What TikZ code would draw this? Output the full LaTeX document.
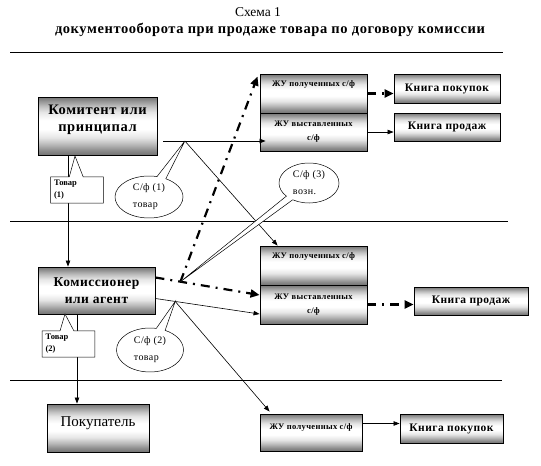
\documentclass[tikz,border=0pt]{standalone}
\usepackage{fontspec}
\setmainfont{Liberation Serif}
\newfontfamily\widefont{Liberation Serif}[LetterSpace=4]
\usetikzlibrary{arrows.meta,shapes.callouts,shapes.geometric}

\pgfdeclareverticalshading{docshade}{100bp}{color(0bp)=(black!55); color(25bp)=(black!55); color(29bp)=(black!45); color(34bp)=(black!28); color(40bp)=(black!10); color(47bp)=(white); color(55bp)=(white); color(62bp)=(black!10); color(67bp)=(black!25); color(71bp)=(black!40); color(75bp)=(black!55); color(100bp)=(black!55)}

\begin{document}
\begin{tikzpicture}[x=1pt,y=-1pt,line width=.6pt,>={Triangle[length=6pt,width=4.5pt]}]

	\useasboundingbox (0,0) rectangle (541,466);
	\def \bigtxt{\widefont\fontsize{14.5}{16.5}\selectfont}
	\def \smalltxt{\widefont\fontsize{8.5}{14}\selectfont}
	\tikzstyle{doc}=[draw=black,line width=.9pt,shading=docshade,inner sep=2pt,align=center,font=\bfseries]
	\tikzstyle{book}=[doc,minimum height=29pt,font=\widefont\fontsize{11.5}{12}\selectfont\bfseries]
	\tikzstyle{journal}=[doc,minimum width=107pt,minimum height=39pt,font=\smalltxt\bfseries]
	\tikzstyle{note}=[rectangle callout,draw=black,fill=white,line width=.5pt,callout pointer width=14pt,align=left,text width=46pt,font=\fontsize{8.5}{12}\selectfont\bfseries]
	\tikzstyle{sf}=[ellipse callout,draw=black,fill=white,line width=.5pt,callout pointer arc=16,inner sep=0pt,align=left,font=\widefont\fontsize{10}{17}\selectfont]
	\tikzstyle{dd-line}=[line width=2.2pt,dash pattern=on 9pt off 6pt on 2pt off 6pt,-{Triangle[length=9pt,width=8pt]}]

	% title
	\node (title)	 at (258,12)	{\fontsize{13.5}{15}\selectfont Схема 1};
	\node (subtitle) at (270,30)	{\widefont\fontsize{14.5}{16}\selectfont\bfseries документооборота при продаже товара по договору комиссии};

	% layers
	\draw[line width=.8pt] (10,52) -- (503,52);
	\draw[line width=.8pt] (10,221) -- (508,221);
	\draw[line width=.8pt] (10,380) -- (502,380);

	% participants
	\node[doc,minimum width=119pt,minimum height=58pt,font=\bigtxt\bfseries,text height=26pt,text depth=16pt] (komitent) at (97.5,126) {Комитент или\\принципал};
	\node[doc,minimum width=117pt,minimum height=47pt,font=\widefont\fontsize{13.5}{16.5}\selectfont\bfseries] (komis) at (96.5,290.5) {Комиссионер\\или агент};
	\node[doc,minimum width=102pt,minimum height=48pt,font=\fontsize{15}{17}\selectfont,text height=10pt,text depth=14pt] (pokup) at (98,428) {Покупатель};

	% komitent layer
	\node[journal,text height=6pt,text depth=21pt] (zhuP1) at (313.5,93.5) {ЖУ полученных с/ф};
	\node[journal,minimum height=38pt] (zhuV1) at (313.5,132) {ЖУ выставленных\\с/ф};
	\node[book,minimum width=106pt] (knP1) at (447,88.5) {Книга покупок};
	\node[book,minimum width=106pt,minimum height=28pt] (knS1) at (447,127) {Книга продаж};

	% komissioner layer
	\node[journal,text height=6pt,text depth=21pt] (zhuP2) at (313.5,265.5) {ЖУ полученных с/ф};
	\node[journal] (zhuV2) at (313.5,304.5) {ЖУ выставленных\\с/ф};
	\node[book,minimum width=114pt,minimum height=28pt] (knS2) at (471,301) {Книга продаж};

	% buyer layer
	\node[journal,minimum width=102pt,minimum height=37pt,text height=6pt,text depth=13pt] (zhuP3) at (311,432.5) {ЖУ полученных с/ф};
	\node[book,minimum width=103pt] (knP3) at (451.5,428.5) {Книга покупок};

	% goods
	\draw[->] ([xshift=-29.5pt]komitent.south) -- ([xshift=-29.5pt]komitent.south |- komis.north);
	\draw[->] ([xshift=-19.5pt]komis.south) -- ([xshift=-19.5pt]komis.south |- pokup.north);
	\node[note,callout absolute pointer={(75,156)}] (tov1) at (77,190) {Товар\\(1)};
	\node[note,callout absolute pointer={(65,314)}] (tov2) at (68.5,344) {Товар\\(2)};

	% invoices
	\draw[->] ([shift={(6pt,-15pt)}]komitent.east) -- coordinate[pos=.21] (j1) ([shift={(6pt,-15pt)}]komitent.east -| zhuV1.west);
	\draw[->] (j1) -- ([xshift=18pt]zhuP2.north west);
	\draw[->] ([yshift=-8pt]komis.east) -- coordinate[pos=.19] (j3) ([yshift=-9.5pt]zhuV2.west);
	\draw[->] (j3) -- ([shift={(10pt,2pt)}]zhuP3.north west);
	\draw[dd-line] ([yshift=13pt]komis.east) -- coordinate[pos=.24] (j2) ([yshift=9.5pt]zhuV2.west);
	\draw[dd-line] (j2) -- ([shift={(-2pt,-3pt)}]zhuP1.north west);

	\node[sf,minimum width=68pt,minimum height=42pt,callout absolute pointer={(j1)}] (sf1) at (149,197) {С/ф (1)\\товар};
	\node[sf,minimum width=67pt,minimum height=44pt,callout absolute pointer={(j3)}] (sf2) at (150,350) {С/ф (2)\\товар};
	\node[sf,minimum width=60pt,minimum height=40pt,callout absolute pointer={(j2)}] (sf3) at (309,183) {С/ф (3)\\возн.};

	% registers
	\draw[dd-line] (zhuP1.east) -- (zhuP1.east -| knP1.west);
	\draw[->] (zhuV1.east) -- (zhuV1.east -| knS1.west);
	\draw[dd-line] (zhuV2.east) -- (zhuV2.east -| knS2.west);
	\draw[->] ([yshift=9pt]zhuP3.east) -- ([yshift=9pt]zhuP3.east -| knP3.west);
\end{tikzpicture}
\end{document}
